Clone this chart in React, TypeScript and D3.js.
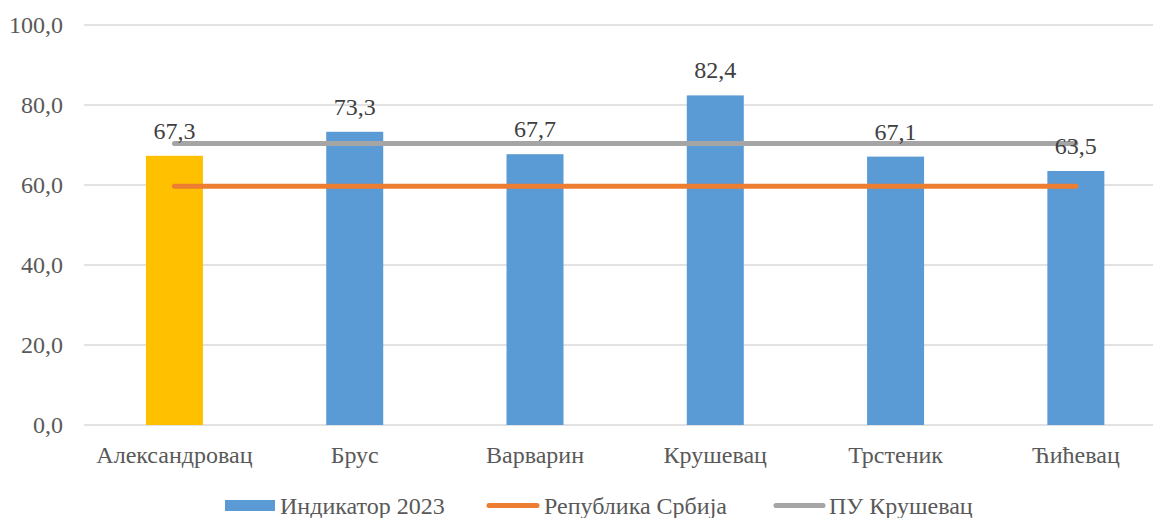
import React from "react";
import * as d3 from "d3";

const municipalities = ["Александровац", "Брус", "Варварин", "Крушевац", "Трстеник", "Ћићевац"];
const indicator2023 = [67.3, 73.3, 67.7, 82.4, 67.1, 63.5];
const serbiaValue = [59.7, 59.7, 59.7, 59.7, 59.7, 59.7];
const districtValue = [70.4, 70.4, 70.4, 70.4, 70.4, 70.4];
const yTicks = [0, 20, 40, 60, 80, 100];
const legendLabels = ["Индикатор 2023", "Република Србија", "ПУ Крушевац"];

const W = 1153;
const H = 518;
const FONT = "Liberation Serif, DejaVu Serif, serif";
const FS = 24;

export default function App() {
  const x = d3.scaleBand<string>().domain(municipalities).range([84.3, 1166]).paddingInner(0).paddingOuter(0);
  const y = d3.scaleLinear().domain([0, 100]).range([425, 25]);
  const barW = 57;
  const fmt = (v: number) => v.toFixed(1).replace(".", ",");
  const cx = (m: string) => (x(m) as number) + x.bandwidth() / 2;

  const line = d3
    .line<number>()
    .x((_, i) => cx(municipalities[i]))
    .y((v) => y(v));

  const textStyle = { fontFamily: FONT };

  return (
    <svg width={W} height={H} style={{ position: "absolute", left: 0, top: 0, background: "#fff", fontFamily: FONT }}>
      {yTicks.map((t) => (
        <g key={t}>
          <line x1={84} x2={W} y1={y(t)} y2={y(t)} stroke="#D9D9D9" strokeWidth={1.5} />
          <text x={63} y={y(t)} dy="0.35em" textAnchor="end" fontSize={FS} fill="#595959" style={textStyle}>
            {fmt(t)}
          </text>
        </g>
      ))}
      {municipalities.map((m, i) => (
        <rect
          key={m}
          x={cx(m) - barW / 2}
          y={y(indicator2023[i])}
          width={barW}
          height={y(0) - y(indicator2023[i])}
          fill={i === 0 ? "#FFC000" : "#5B9BD5"}
        />
      ))}
      <path d={line(districtValue) || ""} fill="none" stroke="#A5A5A5" strokeWidth={5} strokeLinecap="round" />
      <path d={line(serbiaValue) || ""} fill="none" stroke="#ED7D31" strokeWidth={5} strokeLinecap="round" />
      {municipalities.map((m, i) => (
        <text key={m} x={cx(m)} y={y(indicator2023[i]) - 17} textAnchor="middle" fontSize={FS} fill="#404040" style={textStyle}>
          {fmt(indicator2023[i])}
        </text>
      ))}
      {municipalities.map((m) => (
        <text key={m} x={cx(m)} y={463} textAnchor="middle" fontSize={FS} fill="#595959" style={textStyle}>
          {m}
        </text>
      ))}
      <g fontSize={FS} fill="#595959" style={textStyle}>
        <rect x={225} y={500} width={50} height={11} fill="#5B9BD5" />
        <text x={280} y={514}>{legendLabels[0]}</text>
        <line x1={489} x2={537} y1={505.5} y2={505.5} stroke="#ED7D31" strokeWidth={5} strokeLinecap="round" />
        <text x={544} y={514}>{legendLabels[1]}</text>
        <line x1={776} x2={823} y1={505.5} y2={505.5} stroke="#A5A5A5" strokeWidth={5} strokeLinecap="round" />
        <text x={829} y={514}>{legendLabels[2]}</text>
      </g>
    </svg>
  );
}
